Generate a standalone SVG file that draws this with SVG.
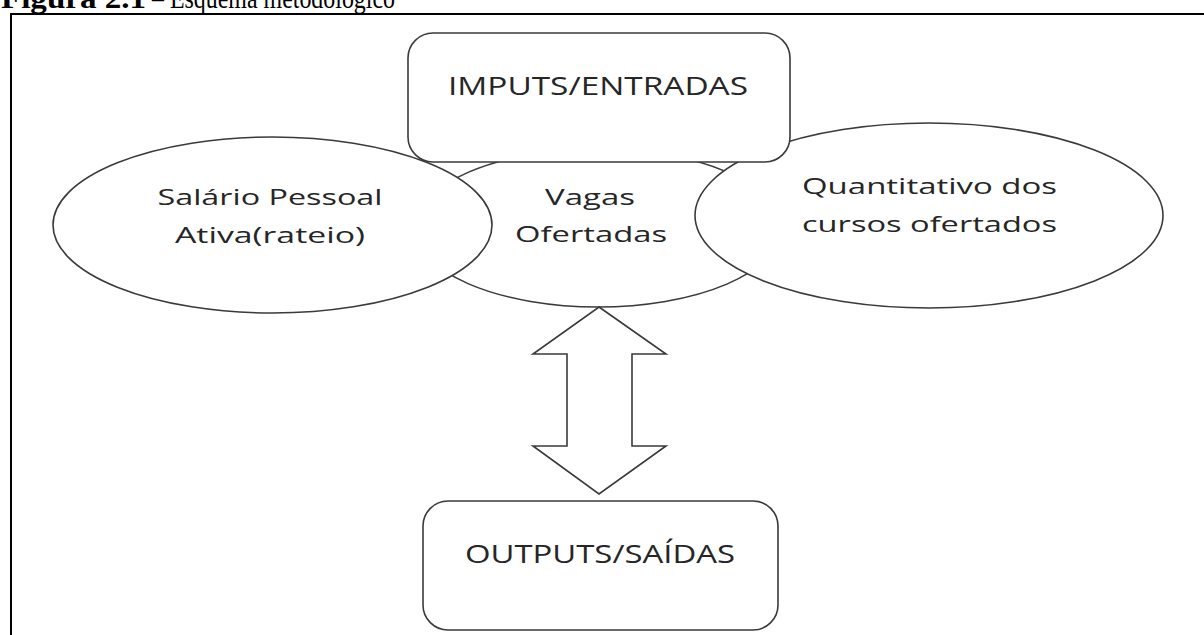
<svg xmlns="http://www.w3.org/2000/svg" width="1204" height="635" viewBox="0 0 1204 635">
<style>
.shape{fill:#fff;stroke:#3a3a3a;stroke-width:1.6}
.lbl{font-family:"Open Sans","Liberation Sans",sans-serif;fill:#262626;text-anchor:middle}
.box{font-size:26px}
.ell{font-size:22.5px}
.title{font-family:"Liberation Serif","Times New Roman",serif;font-size:29px;fill:#000}
</style>
<rect width="1204" height="635" fill="#fff"/>
<g id="title">
<text class="title" x="1" y="8" font-weight="bold" textLength="145" lengthAdjust="spacingAndGlyphs">Figura 2.1</text>
<text class="title" x="152" y="8" textLength="243" lengthAdjust="spacingAndGlyphs">– Esquema metodológico</text>
</g>
<g id="frame">
<path d="M11,635 V14 H1204" fill="none" stroke="#000" stroke-width="2"/>
</g>
<g id="vagas">
<ellipse class="shape" cx="598" cy="228" rx="183" ry="79"/>
</g>
<g id="salario">
<ellipse class="shape" cx="272.5" cy="225" rx="219.5" ry="88"/>
<text class="lbl ell" x="270" y="205" textLength="225" lengthAdjust="spacingAndGlyphs">Salário Pessoal</text>
<text class="lbl ell" x="270" y="243" textLength="190" lengthAdjust="spacingAndGlyphs">Ativa(rateio)</text>
</g>
<g id="vagas-label">
<text class="lbl ell" x="590" y="205" textLength="90" lengthAdjust="spacingAndGlyphs">Vagas</text>
<text class="lbl ell" x="591" y="242" textLength="152" lengthAdjust="spacingAndGlyphs">Ofertadas</text>
</g>
<g id="quantitativo">
<ellipse class="shape" cx="929" cy="215.5" rx="234" ry="92.5"/>
<text class="lbl ell" x="929.5" y="194" textLength="255" lengthAdjust="spacingAndGlyphs">Quantitativo dos</text>
<text class="lbl ell" x="929.5" y="232" textLength="255" lengthAdjust="spacingAndGlyphs">cursos ofertados</text>
</g>
<g id="inputs">
<rect class="shape" x="408" y="33" width="382" height="129" rx="25" ry="25"/>
<text class="lbl box" x="598" y="95" textLength="300" lengthAdjust="spacingAndGlyphs">IMPUTS/ENTRADAS</text>
</g>
<g id="connectors">
<path class="shape" d="M599,307 L666,354 L632,354 L632,446 L666,446 L599,494 L533,446 L567,446 L567,354 L533,354 Z"/>
</g>
<g id="outputs">
<rect class="shape" x="423" y="501" width="355" height="129" rx="25" ry="25"/>
<text class="lbl box" x="600" y="563" textLength="270" lengthAdjust="spacingAndGlyphs">OUTPUTS/SAÍDAS</text>
</g>
</svg>
